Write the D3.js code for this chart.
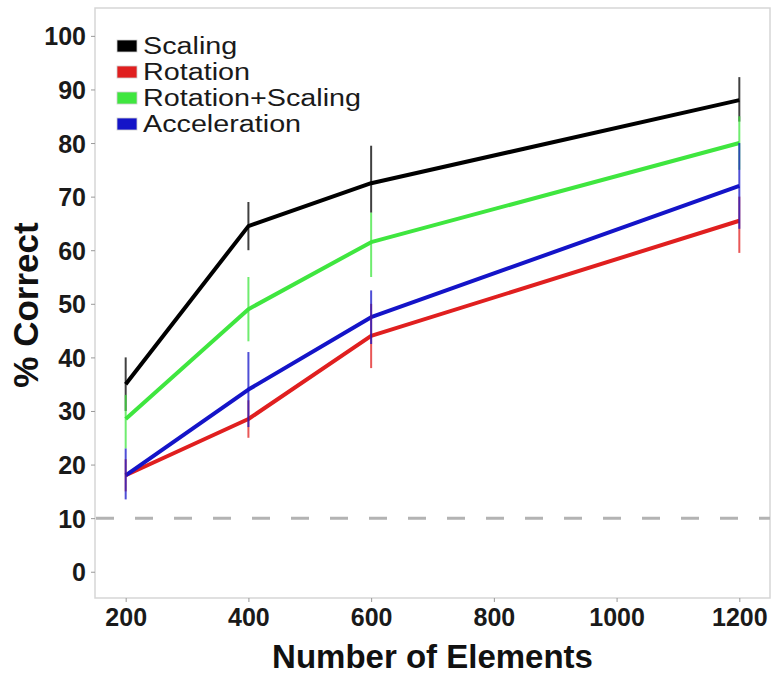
<!DOCTYPE html>
<html>
<head>
<meta charset="utf-8">
<script src="https://cdn.jsdelivr.net/npm/d3@7"></script>
<style>
    body { margin: 0; background: #fff; }
    svg text { font-family: "Liberation Sans", Arial, Helvetica, sans-serif; }
</style>
</head>
<body>
<div id="chart"></div>
<script>
// data
const elements = [200, 400, 600, 1200];
const xTicks = [200, 400, 600, 800, 1000, 1200];
const yTicks = [0, 10, 20, 30, 40, 50, 60, 70, 80, 90, 100];
const chanceLevel = 10;

const seriesNames = ["Scaling", "Rotation", "Rotation+Scaling", "Acceleration"];
const seriesColors = ["#000000", "#e01f1f", "#3fe63f", "#1414c8"];

const scalingMean = [35, 64.5, 72.5, 88];
const scalingLow = [30, 60, 67, 84];
const scalingHigh = [40, 69, 79.5, 92.3];

const rotationMean = [18, 28.5, 44, 65.5];
const rotationLow = [15, 25, 38, 59.5];
const rotationHigh = [21, 32, 50, 70];

const rotScalMean = [28.5, 49, 61.5, 80];
const rotScalLow = [23, 43, 55, 75];
const rotScalHigh = [33, 55, 67, 85];

const accelMean = [18, 34, 47.5, 72];
const accelLow = [13.5, 27, 42.5, 64];
const accelHigh = [23, 41, 52.5, 80];

const means = [scalingMean, rotationMean, rotScalMean, accelMean];
const lows = [scalingLow, rotationLow, rotScalLow, accelLow];
const highs = [scalingHigh, rotationHigh, rotScalHigh, accelHigh];

// build per-series rows
let seriesData = seriesNames.map((name, i) => ({
    name: name,
    color: seriesColors[i],
    values: elements.map((n, j) => ({n: n, mean: means[i][j], lo: lows[i][j], hi: highs[i][j]}))
}));

const width = 772, height = 677;
const panel = {left: 95, right: 770, top: 8, bottom: 598};

let svg = d3.select("#chart").append("svg")
    .attr("width", width)
    .attr("height", height);

let x = d3.scaleLinear()
    .domain([150, 1250])
    .range([panel.left, panel.right]);

let y = d3.scaleLinear()
    .domain([-4.9, 105.2])
    .range([panel.bottom, panel.top]);

// panel
svg.append("rect")
    .attr("x", panel.left)
    .attr("y", panel.top)
    .attr("width", panel.right - panel.left)
    .attr("height", panel.bottom - panel.top)
    .attr("fill", "#fff")
    .attr("stroke", "#d6d6d6")
    .attr("stroke-width", 1.5);

// axes
let xAxis = d3.axisBottom(x).tickValues(xTicks).tickFormat(d3.format("d")).tickSize(4).tickPadding(6);
let yAxis = d3.axisLeft(y).tickValues(yTicks).tickSize(4).tickPadding(5);

let gx = svg.append("g")
    .attr("transform", `translate(0, ${panel.bottom})`)
    .call(xAxis);
let gy = svg.append("g")
    .attr("transform", `translate(${panel.left}, 0)`)
    .call(yAxis);

[gx, gy].forEach(g => {
    g.select(".domain").remove();
    g.selectAll(".tick line").attr("stroke", "#9a9a9a");
    g.selectAll(".tick text")
        .attr("fill", "#1a1a1a")
        .attr("font-size", "25px")
        .attr("font-weight", "bold");
});
gy.selectAll(".tick text").attr("dy", "0.36em");

// chance line
svg.append("line")
    .attr("x1", panel.left + 1)
    .attr("x2", panel.right)
    .attr("y1", y(chanceLevel))
    .attr("y2", y(chanceLevel))
    .attr("stroke", "#b3b3b3")
    .attr("stroke-width", 3)
    .attr("stroke-dasharray", "18,21");

// lines
let line = d3.line()
    .x(d => x(d.n))
    .y(d => y(d.mean));

svg.selectAll(".series")
    .data(seriesData)
    .enter()
    .append("path")
    .attr("class", "series")
    .attr("d", d => line(d.values))
    .attr("fill", "none")
    .attr("stroke", d => d.color)
    .attr("stroke-width", 4)
    .attr("stroke-linejoin", "round");

// error bars on top
seriesData.forEach(s => {
    svg.selectAll(null)
        .data(s.values)
        .enter()
        .append("line")
        .attr("x1", d => x(d.n))
        .attr("x2", d => x(d.n))
        .attr("y1", d => y(d.lo))
        .attr("y2", d => y(d.hi))
        .attr("stroke", s.color)
        .attr("stroke-opacity", 0.75)
        .attr("stroke-width", 2);
});

// legend
let legend = svg.append("g")
    .attr("transform", "translate(117, 46)");

let items = legend.selectAll(".item")
    .data(seriesData)
    .enter()
    .append("g")
    .attr("transform", (d, i) => `translate(0, ${i * 26})`);

items.append("rect")
    .attr("x", 0)
    .attr("y", -6)
    .attr("width", 20)
    .attr("height", 12)
    .attr("fill", d => d.color)
    .attr("stroke", "#cfcfcf")
    .attr("stroke-width", 0.8);

items.append("text")
    .attr("transform", "translate(26, 8) scale(1.25, 1)")
    .attr("font-size", "23px")
    .attr("fill", "#1a1a1a")
    .text(d => d.name);

// axis titles
svg.append("text")
    .attr("x", (panel.left + panel.right) / 2)
    .attr("y", 668)
    .attr("text-anchor", "middle")
    .attr("font-size", "33px")
    .attr("font-weight", "bold")
    .attr("fill", "#111")
    .text("Number of Elements");

svg.append("text")
    .attr("transform", "translate(38, 305) rotate(-90)")
    .attr("text-anchor", "middle")
    .attr("font-size", "35px")
    .attr("font-weight", "bold")
    .attr("fill", "#111")
    .text("% Correct");
</script>
</body>
</html>
